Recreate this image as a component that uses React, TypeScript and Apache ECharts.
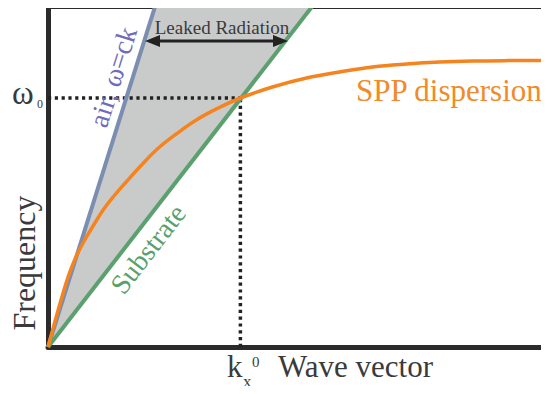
import React, { useEffect, useRef } from "react";
import * as echarts from "echarts";

// Data (x = wave vector, y = frequency, arbitrary units)
const X_MAX = 500;
const Y_MAX = 341;
const airLine = [[0, 0], [107, 341]];
const substrateLine = [[0, 0], [264, 341]];
const leakyRegion = [[0, 0], [107, 341], [264, 341]];
const sppDispersion = [
  [0, 0], [6, 22], [13, 47], [20, 70], [27, 88], [35, 104], [45, 121], [55, 137],
  [65, 150], [78, 165], [92, 180.5], [108, 197], [128, 213], [148, 227], [170, 239],
  [192, 249], [224, 260], [258, 269], [291, 275], [324, 280], [358, 283],
  [391, 285], [424, 286], [460, 286.4], [500, 286.5],
];
const omega0 = 249;
const kx0 = 192;
const omegaGuide = [[0, omega0], [kx0, omega0]];
const kGuide = [[kx0, 0], [kx0, omega0]];

const DARK = "#2b2b2b";
const TEXT = "#3a3a3a";

export default function App() {
  const ref = useRef<HTMLDivElement>(null);
  useEffect(() => {
    if (!ref.current) return;
    const chart = echarts.init(ref.current, null, { renderer: "svg" });
    const axisCommon = {
      type: "value" as const,
      axisTick: { show: false },
      axisLabel: { show: false },
      splitLine: { show: false },
      axisLine: { show: true, lineStyle: { color: DARK, width: 5 } },
    };
    const txt = (x: number, y: number, text: string, size: number, color: string, extra: any = {}) => ({
      type: "text",
      x,
      y,
      rotation: extra.rotation || 0,
      z: 100,
      style: {
        text,
        fontSize: size,
        fontFamily: "Liberation Serif",
        fill: color,
        textAlign: extra.align || "left",
        verticalAlign: "middle",
      },
    });
    chart.setOption({
      animation: false,
      grid: { left: 48, right: 0, top: 6, bottom: 47 },
      xAxis: [
        { ...axisCommon, min: 0, max: X_MAX, position: "bottom" },
        { ...axisCommon, min: 0, max: X_MAX, position: "top" },
      ],
      yAxis: { ...axisCommon, min: 0, max: Y_MAX },
      series: [
        {
          type: "custom",
          data: leakyRegion,
          z: 1,
          renderItem: (params: any, api: any) => {
            if (params.dataIndex !== 0) return null;
            return {
              type: "polygon",
              shape: { points: leakyRegion.map((p) => api.coord(p)) },
              style: { fill: "#c9cbcb" },
            };
          },
        },
        ...[omegaGuide, kGuide].map((d) => ({
          type: "line",
          data: d,
          symbol: "none",
          z: 2,
          lineStyle: { color: "#222", width: 3.5, type: [3.2, 3.6] },
        })),
        {
          type: "line",
          data: airLine,
          symbol: "none",
          z: 3,
          lineStyle: { color: "#7b8db0", width: 4 },
        },
        {
          type: "line",
          data: substrateLine,
          symbol: "none",
          z: 3,
          lineStyle: { color: "#5ba06e", width: 4 },
        },
        {
          type: "line",
          data: sppDispersion,
          symbol: "none",
          smooth: 0.4,
          z: 4,
          lineStyle: { color: "#f5841f", width: 3.5 },
        },
      ],
      graphic: [
        txt(24, 263, "Frequency", 32, TEXT, { rotation: Math.PI / 2, align: "center" }),
        txt(12, 93, "ω", 33, TEXT),
        txt(37, 104, "0", 12, TEXT),
        txt(227, 366, "k", 31, TEXT),
        txt(243, 381, "x", 17, TEXT),
        txt(252, 362, "0", 15, TEXT),
        txt(278, 366, "Wave vector", 31, TEXT),
        txt(356, 90, "SPP dispersion", 31, "#f08a2a"),
        txt(222, 27, "Leaked Radiation", 19, TEXT, { align: "center" }),
        txt(113, 77, "air, ω=ck", 28, "#6f6cb8", { rotation: 1.266, align: "center" }),
        txt(148, 249, "Substrate", 28, "#5aa06a", { rotation: 0.913, align: "center" }),
        {
          type: "line",
          z: 100,
          shape: { x1: 155, y1: 41, x2: 278, y2: 41 },
          style: { stroke: "#222", lineWidth: 3 },
        },
        {
          type: "polygon",
          z: 100,
          shape: { points: [[145, 41], [160, 35], [160, 47]] },
          style: { fill: "#222" },
        },
        {
          type: "polygon",
          z: 100,
          shape: { points: [[288, 41], [273, 35], [273, 47]] },
          style: { fill: "#222" },
        },
      ],
    });
    return () => chart.dispose();
  }, []);
  return <div ref={ref} style={{ width: 549, height: 394, margin: -8 }} />;
}
